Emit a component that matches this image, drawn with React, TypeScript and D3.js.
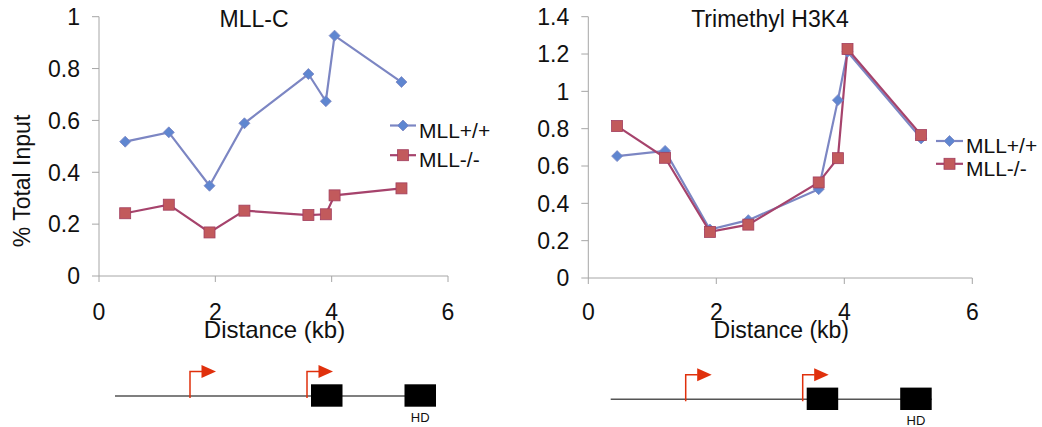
import React from 'react';
import * as d3 from 'd3';

// distances (kb) of the primer sites
const distances = [0.45, 1.2, 1.9, 2.5, 3.6, 3.9, 4.05, 5.2];

// MLL-C panel
const mllcWT = [0.518, 0.554, 0.348, 0.589, 0.779, 0.674, 0.927, 0.748];
const mllcKO = [0.242, 0.275, 0.168, 0.252, 0.235, 0.238, 0.311, 0.338];

// Trimethyl H3K4 panel
const h3k4WT = [0.653, 0.681, 0.26, 0.31, 0.476, 0.953, 1.212, 0.748];
const h3k4KO = [0.814, 0.644, 0.247, 0.286, 0.512, 0.642, 1.227, 0.766];

const seriesNames = ['MLL+/+', 'MLL-/-'];
const xTicks = [0, 2, 4, 6];
const yTicksC = [0, 0.2, 0.4, 0.6, 0.8, 1];
const yTicksK = [0, 0.2, 0.4, 0.6, 0.8, 1, 1.2, 1.4];

// gene diagram (arbitrary units along the locus)
const locus = [0, 321];
const promoters = [75, 192];
const exons = [[196, 227.5], [289.5, 321]];
const exonLabels = ['', 'HD'];

const font = '"Liberation Sans", Arial, Helvetica, sans-serif';
const axisColor = '#a6a6a6';
const blue = { line: '#7c86c3', fill: '#5f86d0' };
const red = { line: '#a6436c', fill: '#c25a5c', stroke: '#a23e5e' };
const arrowRed = '#e0300c';

const panels = [
  {
    title: 'MLL-C', wt: mllcWT, ko: mllcKO, yTicks: yTicksC, yMax: 1,
    x0: 99, x1: 448, yTop: 16.7, yBot: 276, titleX: 254, labelSize: 24,
    legend: { x0: 390, x1: 416, y: 125.5, gap: 29.7 },
    gene: { x: 115, y: 396 }, ylabel: true,
  },
  {
    title: 'Trimethyl H3K4', wt: h3k4WT, ko: h3k4KO, yTicks: yTicksK, yMax: 1.4,
    x0: 588.3, x1: 972.3, yTop: 16.7, yBot: 278, titleX: 770, labelSize: 23,
    legend: { x0: 936, x1: 963, y: 141, gap: 22.8 },
    gene: { x: 610.7, y: 399.3 }, ylabel: false,
  },
];

const Diamond = ({ cx, cy }) => (
  <path d={`M${cx},${cy - 5.5}L${cx + 5.5},${cy}L${cx},${cy + 5.5}L${cx - 5.5},${cy}Z`} fill={blue.fill} stroke={blue.line} strokeWidth={0.8} />
);
const Square = ({ cx, cy }) => (
  <rect x={cx - 5.5} y={cy - 5.5} width={11} height={11} fill={red.fill} stroke={red.stroke} strokeWidth={0.8} />
);

const Panel = ({ p }) => {
  const x = d3.scaleLinear().domain([0, 6]).range([p.x0, p.x1]);
  const y = d3.scaleLinear().domain([0, p.yMax]).range([p.yBot, p.yTop]);
  const line = d3.line<number>().x((d, i) => x(distances[i])).y(d => y(d));
  const g = d3.scaleLinear().domain(locus).range([p.gene.x, p.gene.x + 321]);
  const lx = (p.legend.x0 + p.legend.x1) / 2;

  return (
    <g fontFamily={font} fill="#111">
      <text x={p.titleX} y={26.7} fontSize={23} textAnchor="middle">{p.title}</text>

      {/* axes */}
      <line x1={p.x0} x2={p.x0} y1={y(p.yMax)} y2={p.yBot} stroke={axisColor} />
      <line x1={p.x0} x2={x(6)} y1={p.yBot} y2={p.yBot} stroke={axisColor} />
      {p.yTicks.map(t => (
        <g key={'y' + t}>
          <line x1={p.x0 - 7} x2={p.x0} y1={y(t)} y2={y(t)} stroke={axisColor} />
          <text x={p.x0 - 19} y={y(t)} dy="0.36em" fontSize={23} textAnchor="end">{t}</text>
        </g>
      ))}
      {xTicks.map(t => (
        <g key={'x' + t}>
          <line x1={x(t)} x2={x(t)} y1={p.yBot} y2={p.yBot + 6} stroke={axisColor} />
          <text x={x(t)} y={319.5} fontSize={23} textAnchor="middle">{t}</text>
        </g>
      ))}
      <text x={(p.x0 + p.x1) / 2 + 1} y={337.5} fontSize={p.labelSize} textAnchor="middle">Distance (kb)</text>
      {p.ylabel && (
        <text transform="translate(30,181) rotate(-90)" fontSize={23} textAnchor="middle">% Total Input</text>
      )}

      {/* series */}
      <path d={line(p.wt)} fill="none" stroke={blue.line} strokeWidth={2.2} />
      <path d={line(p.ko)} fill="none" stroke={red.line} strokeWidth={2.2} />
      {p.wt.map((v, i) => <Diamond key={'w' + i} cx={x(distances[i])} cy={y(v)} />)}
      {p.ko.map((v, i) => <Square key={'k' + i} cx={x(distances[i])} cy={y(v)} />)}

      {/* legend */}
      {seriesNames.map((name, i) => {
        const ly = p.legend.y + i * p.legend.gap;
        return (
          <g key={name}>
            <line x1={p.legend.x0} x2={p.legend.x1} y1={ly} y2={ly} stroke={i ? red.line : blue.line} strokeWidth={2.2} />
            {i ? <Square cx={lx} cy={ly} /> : <Diamond cx={lx} cy={ly} />}
            <text x={p.legend.x1 + 3} y={ly + 12} fontSize={21}>{name}</text>
          </g>
        );
      })}

      {/* gene diagram */}
      <line x1={g(locus[0])} x2={g(locus[1])} y1={p.gene.y} y2={p.gene.y} stroke="#555" strokeWidth={1.5} />
      {promoters.map((pr, i) => {
        const px = g(pr);
        const top = p.gene.y - 24.5;
        return (
          <g key={'pr' + i}>
            <path d={`M${px},${p.gene.y + 2}V${top}H${px + 12}`} fill="none" stroke={arrowRed} strokeWidth={1.5} />
            <path d={`M${px + 11.5},${top - 6.5}L${px + 26},${top}L${px + 11.5},${top + 6.5}Z`} fill={arrowRed} />
          </g>
        );
      })}
      {exons.map((e, i) => (
        <g key={'ex' + i}>
          <rect x={g(e[0])} y={p.gene.y - 11.7} width={g(e[1]) - g(e[0])} height={22.4} fill="#000" />
          {exonLabels[i] && (
            <text x={(g(e[0]) + g(e[1])) / 2} y={p.gene.y + 26} fontSize={13} textAnchor="middle">{exonLabels[i]}</text>
          )}
        </g>
      ))}
    </g>
  );
};

export default function App() {
  return (
    <svg width={1042} height={427} style={{ position: 'absolute', left: 0, top: 0, background: '#fff' }}>
      {panels.map(p => <Panel key={p.title} p={p} />)}
    </svg>
  );
}
